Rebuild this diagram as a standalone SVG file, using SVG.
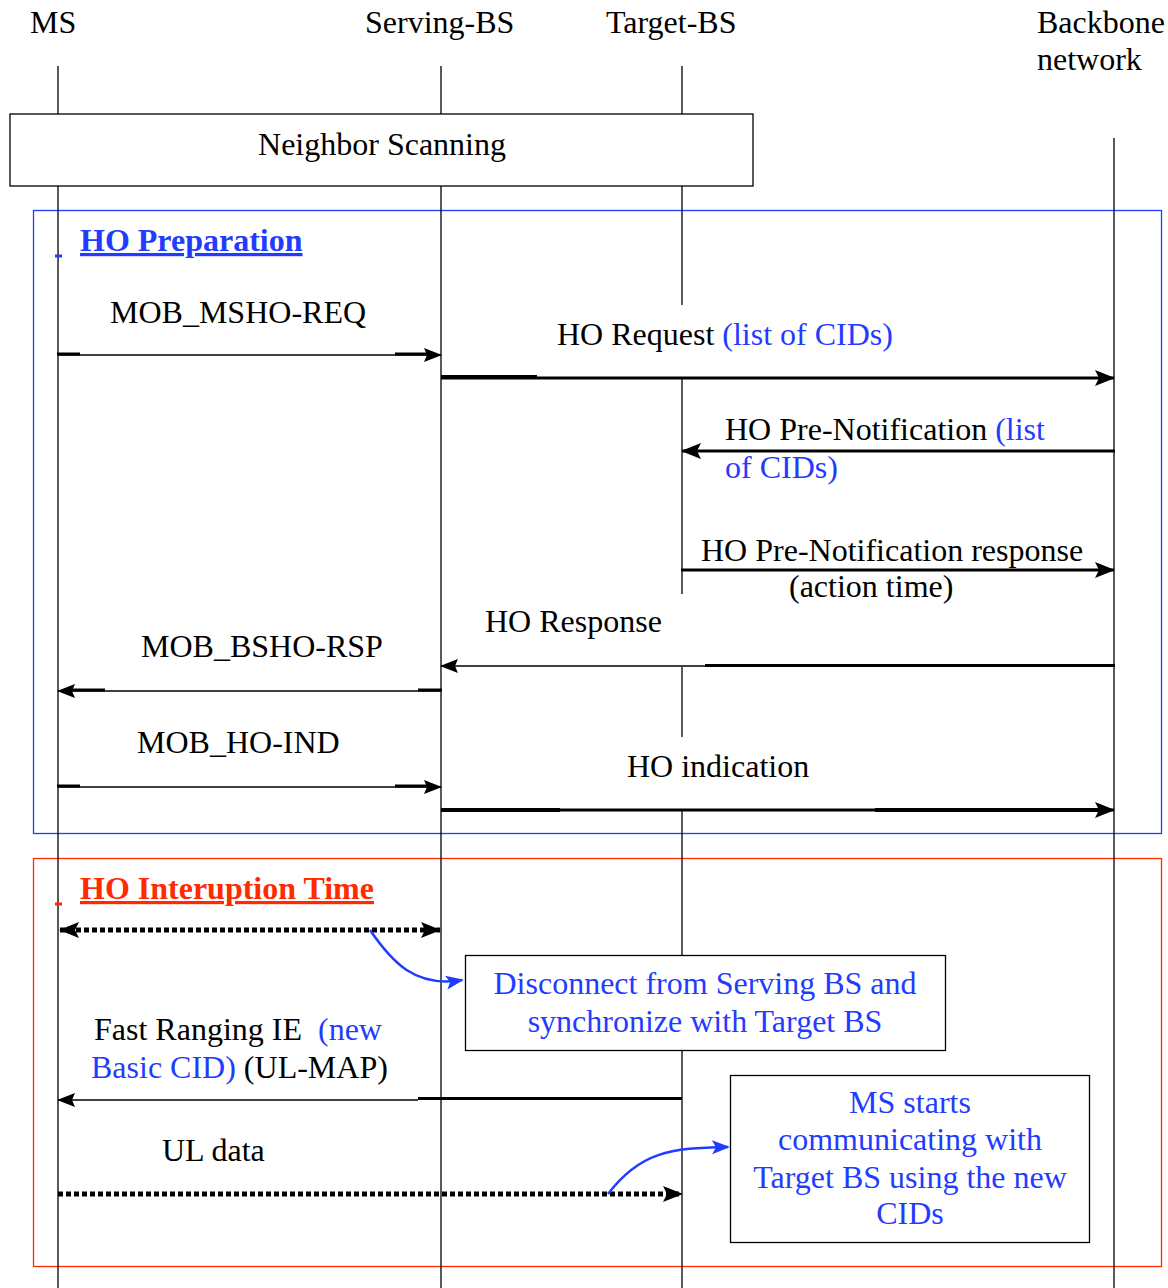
<svg xmlns="http://www.w3.org/2000/svg" width="1168" height="1288" viewBox="0 0 1168 1288">
<style>
text{font-family:"Liberation Serif","Times New Roman",serif;font-size:32px;fill:#000}
.b{fill:#1f3cff}
.r{fill:#ff2a00}
.ttl{font-weight:bold;text-decoration:underline}
.life{stroke:#000;stroke-width:1.3;fill:none}
.thin{stroke:#000;stroke-width:1.5;fill:none}
.thk{stroke:#000;stroke-width:3;fill:none}
.dot{stroke:#000;stroke-width:5;stroke-dasharray:5 3;fill:none}
.box{fill:#fff;stroke:#000;stroke-width:1.3}
.cur{stroke:#1f3cff;stroke-width:2.5;fill:none}
.mid{text-anchor:middle}
</style>
<defs>
<marker id="ah" markerUnits="userSpaceOnUse" markerWidth="20" markerHeight="18" refX="19" refY="9" orient="auto-start-reverse">
<path d="M0,1 L20,9 L0,17 L4,9 z" fill="#000"/>
</marker>
<marker id="ahs" markerUnits="userSpaceOnUse" markerWidth="18" markerHeight="16" refX="17" refY="8" orient="auto-start-reverse">
<path d="M0,1 L18,8 L0,15 L3,8 z" fill="#000"/>
</marker>
<marker id="ahb" markerUnits="userSpaceOnUse" markerWidth="18" markerHeight="16" refX="16" refY="8" orient="auto">
<path d="M0,1 L18,8 L0,15 L4,8 z" fill="#1f3cff"/>
</marker>
</defs>
<rect width="1168" height="1288" fill="#fff"/>

<g id="frames">
<rect x="33.5" y="210.5" width="1128" height="623" fill="none" stroke="#1f3cff" stroke-width="1.3"/>
<rect x="33.5" y="858.5" width="1128" height="408" fill="none" stroke="#ff2a00" stroke-width="1.3"/>
</g>

<g id="lifelines">
<line class="life" x1="58" y1="66" x2="58" y2="1288"/>
<line class="life" x1="441" y1="66" x2="441" y2="1288"/>
<line class="life" x1="682" y1="66" x2="682" y2="305"/>
<line class="life" x1="682" y1="379" x2="682" y2="594"/>
<line class="life" x1="682" y1="667" x2="682" y2="737"/>
<line class="life" x1="682" y1="810" x2="682" y2="1288"/>
<line class="life" x1="1114" y1="138" x2="1114" y2="1288"/>
</g>

<g id="ms"><text x="30" y="33">MS</text></g>
<g id="serving-bs"><text x="365" y="33">Serving-BS</text></g>
<g id="target-bs"><text x="606" y="33">Target-BS</text></g>
<g id="backbone"><text x="1037" y="33">Backbone</text><text x="1037" y="70">network</text></g>

<g id="neighbor-scanning">
<rect class="box" x="10" y="114" width="743" height="72"/>
<text class="mid" x="382" y="155">Neighbor Scanning</text>
</g>

<g id="ho-preparation">
<line x1="55" y1="256" x2="62" y2="256" stroke="#1f3cff" stroke-width="3"/>
<text class="b ttl" x="80" y="251">HO Preparation</text>
</g>

<g id="ho-interruption">
<line x1="55" y1="904" x2="62" y2="904" stroke="#ff2a00" stroke-width="3"/>
<text class="r ttl" x="80" y="899">HO Interuption Time</text>
</g>

<g id="disconnect">
<rect class="box" x="465.5" y="955.5" width="480" height="95"/>
<text class="b mid" x="705" y="994">Disconnect from Serving BS and</text>
<text class="b mid" x="705" y="1032">synchronize with Target BS</text>
</g>

<g id="ms-starts">
<rect class="box" x="730.5" y="1075.5" width="359" height="167"/>
<text class="b mid" x="910" y="1113">MS starts</text>
<text class="b mid" x="910" y="1150">communicating with</text>
<text class="b mid" x="910" y="1188">Target BS using the new</text>
<text class="b mid" x="910" y="1224">CIDs</text>
</g>

<g id="labels">
<text x="110" y="323">MOB_MSHO-REQ</text>
<text x="557" y="345">HO Request <tspan class="b">(list of CIDs)</tspan></text>
<text x="725" y="440">HO Pre-Notification <tspan class="b">(list</tspan></text>
<text class="b" x="725" y="478">of CIDs)</text>
<text x="701" y="561">HO Pre-Notification response</text>
<text x="789" y="597">(action time)</text>
<text x="485" y="632">HO Response</text>
<text x="141" y="657">MOB_BSHO-RSP</text>
<text x="137" y="753">MOB_HO-IND</text>
<text x="627" y="777">HO indication</text>
<text x="94" y="1040">Fast Ranging IE</text>
<text class="b" x="318" y="1040">(new</text>
<text x="91" y="1078"><tspan class="b">Basic CID)</tspan> (UL-MAP)</text>
<text x="162" y="1161">UL data</text>
</g>

<g id="connectors">
<!-- MOB_MSHO-REQ -->
<line class="thin" x1="58" y1="355" x2="441" y2="355" marker-end="url(#ahs)"/>
<line class="thk" x1="57" y1="354" x2="80" y2="354"/>
<line class="thk" x1="395" y1="354" x2="428" y2="354"/>
<!-- HO Request -->
<line class="thk" x1="441" y1="378" x2="1114" y2="378" marker-end="url(#ah)"/>
<line stroke="#000" stroke-width="4" x1="441" y1="377" x2="537" y2="377"/>
<!-- HO Pre-Notification -->
<line class="thk" x1="1115" y1="451" x2="682" y2="451" marker-end="url(#ah)"/>
<!-- HO Pre-Notification response -->
<line class="thk" x1="681" y1="570" x2="1114" y2="570" marker-end="url(#ah)"/>
<!-- HO Response -->
<line class="thin" x1="705" y1="666" x2="441" y2="666" marker-end="url(#ahs)"/>
<line class="thk" x1="1115" y1="665.5" x2="705" y2="665.5"/>
<!-- MOB_BSHO-RSP -->
<line class="thin" x1="441" y1="691" x2="58" y2="691" marker-end="url(#ahs)"/>
<line class="thk" x1="418" y1="690" x2="442" y2="690"/>
<line class="thk" x1="70" y1="690" x2="105" y2="690"/>
<!-- MOB_HO-IND -->
<line class="thin" x1="58" y1="787" x2="441" y2="787" marker-end="url(#ahs)"/>
<line class="thk" x1="57" y1="786" x2="80" y2="786"/>
<line class="thk" x1="395" y1="786" x2="428" y2="786"/>
<!-- HO indication -->
<line class="thk" x1="441" y1="810" x2="1114" y2="810" marker-end="url(#ah)"/>
<line stroke="#000" stroke-width="4" x1="441" y1="810" x2="560" y2="810"/>
<line stroke="#000" stroke-width="4" x1="875" y1="810" x2="1100" y2="810"/>
<!-- HO interruption dotted -->
<line class="dot" x1="60" y1="930" x2="440" y2="930" marker-start="url(#ah)" marker-end="url(#ah)"/>
<path class="cur" d="M370,930 C392,962 415,988 462,980" marker-end="url(#ahb)"/>
<!-- Fast Ranging IE -->
<line class="thin" x1="418" y1="1100" x2="58" y2="1100" marker-end="url(#ahs)"/>
<line class="thk" x1="682" y1="1098.5" x2="418" y2="1098.5"/>
<!-- UL data -->
<line class="dot" x1="58" y1="1194" x2="682" y2="1194" marker-end="url(#ah)"/>
<path class="cur" d="M608,1194 C640,1152 670,1148 728,1147" marker-end="url(#ahb)"/>
</g>
</svg>
